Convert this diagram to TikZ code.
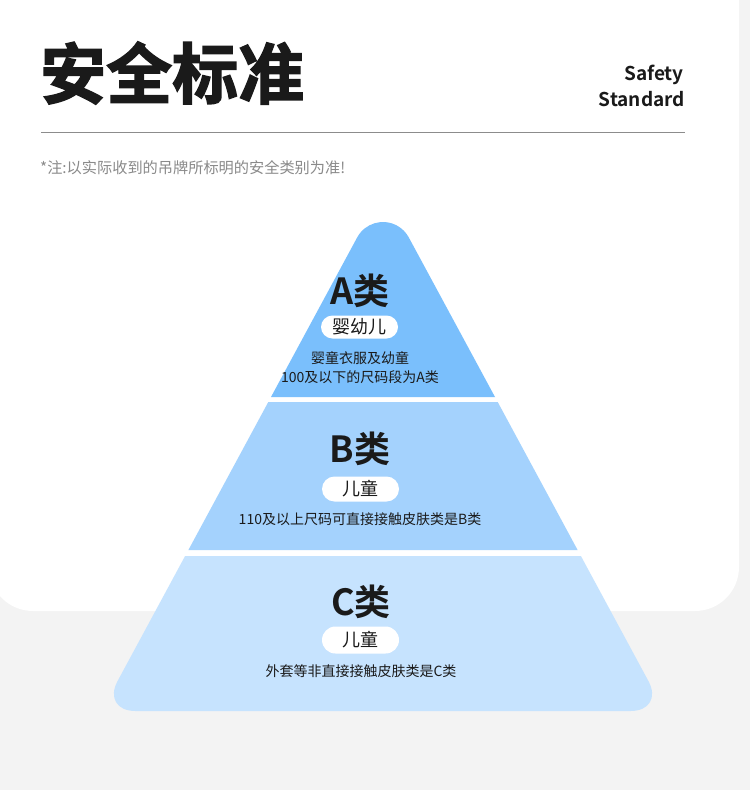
\documentclass[tikz,border=0pt]{standalone}
\usepackage{fontspec}
\setmainfont{Noto Sans CJK SC}[BoldFont={Noto Sans CJK SC Bold}]
\newfontfamily\titlefont{Noto Sans CJK SC Bold}[FakeBold=2.2]
\definecolor{bggray}{HTML}{F3F3F3}
\definecolor{tierA}{HTML}{7ABFFC}
\definecolor{tierB}{HTML}{A4D2FD}
\definecolor{tierC}{HTML}{C6E3FE}
\definecolor{ink}{HTML}{1A1A1A}
\definecolor{notegray}{HTML}{8A8A8A}
\definecolor{rulegray}{HTML}{8C8C8C}
\begin{document}
\begin{tikzpicture}[x=1pt,y=-1pt,
  heading/.style={font=\bfseries\fontsize{36}{40}\selectfont, text=ink, inner sep=0pt},
  pill/.style={fill=white, rounded corners=12.5pt, minimum width=77pt, minimum height=25pt, inner sep=0pt, font=\fontsize{18}{20}\selectfont, text=ink},
  desc/.style={font=\fontsize{14}{16}\selectfont, text=ink, inner sep=0pt}]
\useasboundingbox (0,0) rectangle (750,790);
\fill[bggray] (0,0) rectangle (750,790);
% white card
\fill[white, rounded corners=44pt] (-11,-60) rectangle (739,611);
% header
\node[anchor=west, inner sep=0pt, text=ink, font=\titlefont\fontsize{66}{70}\selectfont] (title) at (40,73) {安全标准};
\node[anchor=base east, inner sep=0pt, text=ink, font=\bfseries\fontsize{19}{22}\selectfont] (safety) at (684,80) {Safety};
\node[anchor=base east, inner sep=0pt, text=ink, font=\bfseries\fontsize{19}{22}\selectfont] (standard) at (685,106) {Standard};
\coordinate (ruleL) at (41,132.5);
\coordinate (ruleR) at (685,132.5);
\draw[rulegray, line width=1.3pt] (ruleL) -- (ruleR);
\node[anchor=west, inner sep=0pt, text=notegray, font=\fontsize{15.2}{17}\selectfont] (note) at (40,168) {*注:以实际收到的吊牌所标明的安全类别为准!};
% pyramid: center 383, apex 189.6, slope 0.54
\fill[tierA] (271,397) -- (357.2,237.4) arc[start angle=151.63, end angle=28.37, radius=29.3pt] -- (495,397) -- cycle;
\fill[tierB] (268.3,402) -- (497.7,402) -- (577.6,550) -- (188.4,550) -- cycle;
\fill[tierC] (185.1,556) -- (580.9,556) [rounded corners=34pt] -- (664.6,711) -- (101.4,711) [sharp corners] -- cycle;
% tier A
\node[heading] (ha) at (360,291) {A类};
\node[pill, minimum height=23pt, rounded corners=11.5pt] (pa) at (359.5,327) {婴幼儿};
\node[desc] (da1) at (360,358) {婴童衣服及幼童};
\node[desc] (da2) at (360,377) {100及以下的尺码段为A类};
% tier B
\node[heading] (hb) at (360,449) {B类};
\node[pill] (pb) at (360.5,489) {儿童};
\node[desc] (db) at (360,519) {110及以上尺码可直接接触皮肤类是B类};
% tier C
\node[heading] (hc) at (361,602) {C类};
\node[pill, minimum height=27pt, rounded corners=13.5pt] (pc) at (360.5,640) {儿童};
\node[desc] (dc) at (361,671) {外套等非直接接触皮肤类是C类};
\end{tikzpicture}
\end{document}
